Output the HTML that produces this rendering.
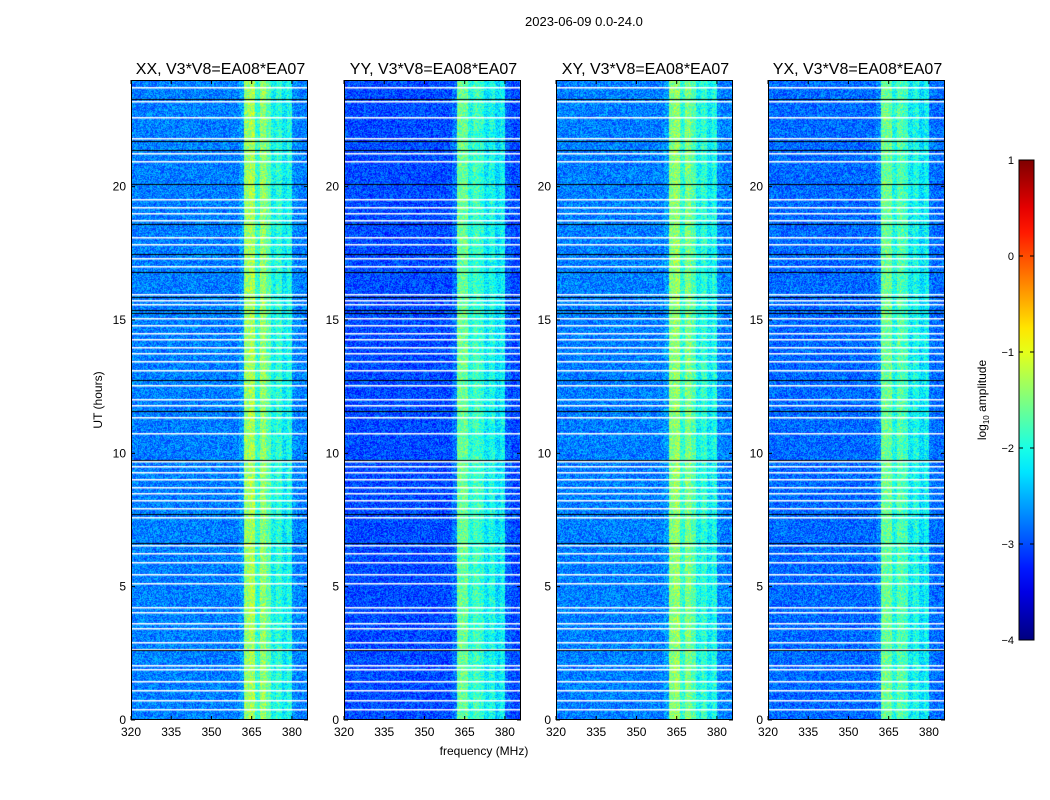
<!DOCTYPE html>
<html><head><meta charset="utf-8"><style>
body{margin:0;background:#fff;width:1050px;height:800px;position:relative;overflow:hidden;font-family:"Liberation Sans",sans-serif;}
.t{position:absolute;font-size:13px;color:#000;white-space:nowrap}
canvas{position:absolute}
</style></head><body>
<div class="t" style="left:525px;top:14px">2023-06-09 0.0-24.0</div>
<svg id="svg" width="1050" height="800" style="position:absolute;left:0;top:0"></svg>
<script>
// ---- data ----
const panelTitles = ["XX, V3*V8=EA08*EA07","YY, V3*V8=EA08*EA07","XY, V3*V8=EA08*EA07","YX, V3*V8=EA08*EA07"];
const freqStart = 320, freqEnd = 386, freqStep = 2; // MHz bins of band levels
const xTicks = [320,335,350,365,380];
const yTicks = [0,5,10,15,20];
const cbTicks = [-4,-3,-2,-1,0,1];
// log10 amplitude per 2-MHz bin (320..386)
const levelsXX = [-2.75,-2.75,-2.75,-2.75,-2.75,-2.75,-2.75,-2.75,-2.75,-2.75,-2.75,-2.75,-2.75,-2.75,-2.75,-2.75,-2.75,-2.75,-2.75,-2.75,-2.6,-1.4,-1.3,-1.9,-1.4,-1.7,-2.1,-1.9,-2.2,-2.0,-2.7,-2.75,-2.75];
const levelsYY = [-3.0,-3.0,-3.0,-3.0,-3.0,-3.0,-3.0,-3.0,-3.0,-3.0,-3.0,-3.0,-3.0,-3.0,-3.0,-3.0,-3.0,-3.0,-3.0,-3.0,-2.8,-1.6,-1.6,-2.0,-1.8,-1.9,-2.2,-2.0,-2.3,-2.1,-2.9,-3.0,-3.0];
const levelsXY = [-2.75,-2.75,-2.75,-2.75,-2.75,-2.75,-2.75,-2.75,-2.75,-2.75,-2.75,-2.75,-2.75,-2.75,-2.75,-2.75,-2.75,-2.75,-2.75,-2.75,-2.6,-1.5,-1.4,-1.9,-1.5,-1.7,-2.1,-1.9,-2.2,-2.0,-2.7,-2.75,-2.75];
const levelsYX = [-2.85,-2.85,-2.85,-2.85,-2.85,-2.85,-2.85,-2.85,-2.85,-2.85,-2.85,-2.85,-2.85,-2.85,-2.85,-2.85,-2.85,-2.85,-2.85,-2.85,-2.7,-1.6,-1.6,-2.0,-1.7,-1.8,-2.2,-2.0,-2.3,-2.1,-2.8,-2.85,-2.85];
// flagged (no data) rows in UT hours
const whiteRows = [23.74,23.21,22.61,21.83,21.26,20.96,19.54,19.24,19.01,18.75,18.11,17.85,17.33,17.03,15.98,15.75,15.6,15.08,14.81,14.51,14.29,13.99,13.76,13.46,13.13,12.56,12.04,11.81,11.36,10.76,9.71,9.53,9.3,9.04,8.74,8.51,8.25,7.95,7.61,6.56,6.26,5.93,5.48,5.14,4.24,4.05,3.64,3.45,2.93,2.66,2.06,1.91,1.46,1.13,0.75,0.41];
const blackRows = [23.29,21.71,21.38,20.1,18.6,17.48,16.8,15.86,15.38,15.26,12.75,11.59,9.75,7.73,6.64,2.63];

const panelLevels = [levelsXX,levelsYY,levelsXY,levelsYX];
const panelX = [131,344,556,768], PW=177, PT=80, PH=640;
const svg=document.getElementById('svg'); const NS='http://www.w3.org/2000/svg';
function jet(v){
  const r=Math.min(1,Math.max(0,1.5-Math.abs(4*v-3)));
  const g=Math.min(1,Math.max(0,1.5-Math.abs(4*v-2)));
  const b=Math.min(1,Math.max(0,1.5-Math.abs(4*v-1)));
  return [r*255|0,g*255|0,b*255|0];
}
function hash(x,y,s){let h=(x*374761393+y*668265263+s*1442695041)|0;h=(h^(h>>>13))*1274126177|0;return ((h^(h>>>16))>>>0)/4294967295;}
const xScale=f=>(f-freqStart)/(freqEnd-freqStart)*PW;
const yScale=h=>PH-h/24*PH;
function el(tag,attrs,txt){const e=document.createElementNS(NS,tag);for(const k in attrs)e.setAttribute(k,attrs[k]);if(txt!==undefined)e.textContent=txt;svg.appendChild(e);return e;}
panelX.forEach((px,p)=>{
  const cv=document.createElement('canvas');cv.width=PW;cv.height=PH;
  cv.style.left=px+'px';cv.style.top=PT+'px';
  
  
  document.body.insertBefore(cv,svg);
  const ctx=cv.getContext('2d');const img=ctx.createImageData(PW,PH);
  const lv=panelLevels[p];
  for(let x=0;x<PW;x++){
    const f=freqStart+x/PW*(freqEnd-freqStart);
    const bi=Math.min(lv.length-1,Math.floor((f-freqStart)/freqStep));
    for(let y=0;y<PH;y++){
      const n=(hash(x,y,p)-0.5)*0.8;
      const v=(lv[bi]+n+4)/5;
      const c=jet(Math.max(0,Math.min(1,v)));
      const i=(y*PW+x)*4;img.data[i]=c[0];img.data[i+1]=c[1];img.data[i+2]=c[2];img.data[i+3]=255;
    }
  }
  ctx.putImageData(img,0,0);
  whiteRows.forEach(h=>{ctx.fillStyle='#fff';ctx.fillRect(0,Math.round(yScale(h)),PW,1.5);});
  blackRows.forEach(h=>{ctx.fillStyle='#000';ctx.fillRect(0,Math.round(yScale(h)),PW,1);});
  const fr=el('rect',{x:px+0.5,y:PT+0.5,width:PW-1,height:PH-1,fill:'none',stroke:'#000','stroke-width':1});
  
  const t=el('text',{x:px+PW/2+1,y:PT-6,'text-anchor':'middle','font-size':16,'font-family':'Liberation Sans'},panelTitles[p]);
  
  xTicks.forEach(v=>{const x=px+xScale(v);
    el('line',{x1:x,x2:x,y1:PT+PH,y2:PT+PH-4,stroke:'#000'});el('line',{x1:x,x2:x,y1:PT,y2:PT+4,stroke:'#000'});
    const l=el('text',{x:x,y:PT+PH+16,'text-anchor':'middle','font-size':12},String(v));
    });
  yTicks.forEach(v=>{const y=PT+yScale(v);
    el('line',{x1:px,x2:px+4,y1:y,y2:y,stroke:'#000'});el('line',{x1:px+PW,x2:px+PW-4,y1:y,y2:y,stroke:'#000'});
    const l=el('text',{x:px-5,y:y+4,'text-anchor':'end','font-size':12},String(v));
    });
});
const yl=el('text',{x:102,y:400,'text-anchor':'middle','font-size':12,transform:'rotate(-90 102 400)'},'UT (hours)');

const xl=el('text',{x:484,y:755,'text-anchor':'middle','font-size':12},'frequency (MHz)');

const CX=1019,CT=160,CH=480,CW=15;
const defs=el('defs',{});const g=document.createElementNS(NS,'linearGradient');
g.setAttribute('id','jg');g.setAttribute('x1','0');g.setAttribute('y1','1');g.setAttribute('x2','0');g.setAttribute('y2','0');defs.appendChild(g);
for(let i=0;i<=20;i++){const c=jet(i/20);const s=document.createElementNS(NS,'stop');s.setAttribute('offset',i/20);s.setAttribute('stop-color','rgb('+c+')');g.appendChild(s);}
const cb=el('rect',{x:CX,y:CT,width:CW,height:CH,fill:'url(#jg)',stroke:'#000','stroke-width':1});

cbTicks.forEach(v=>{const y=CT+CH-(v+4)/5*CH;
  el('line',{x1:CX,x2:CX+4,y1:y,y2:y,stroke:'#000'});el('line',{x1:CX+CW,x2:CX+CW-4,y1:y,y2:y,stroke:'#000'});
  const l=el('text',{x:CX-5,y:y+4,'text-anchor':'end','font-size':11},String(v).replace('-','\u2212'));
  });
const cl=el('text',{x:986,y:400,'text-anchor':'middle','font-size':12,transform:'rotate(-90 986 400)'});

cl.innerHTML='log<tspan font-size="8" dy="3">10</tspan><tspan dy="-3"> amplitude</tspan>';
</script>
</body></html>
